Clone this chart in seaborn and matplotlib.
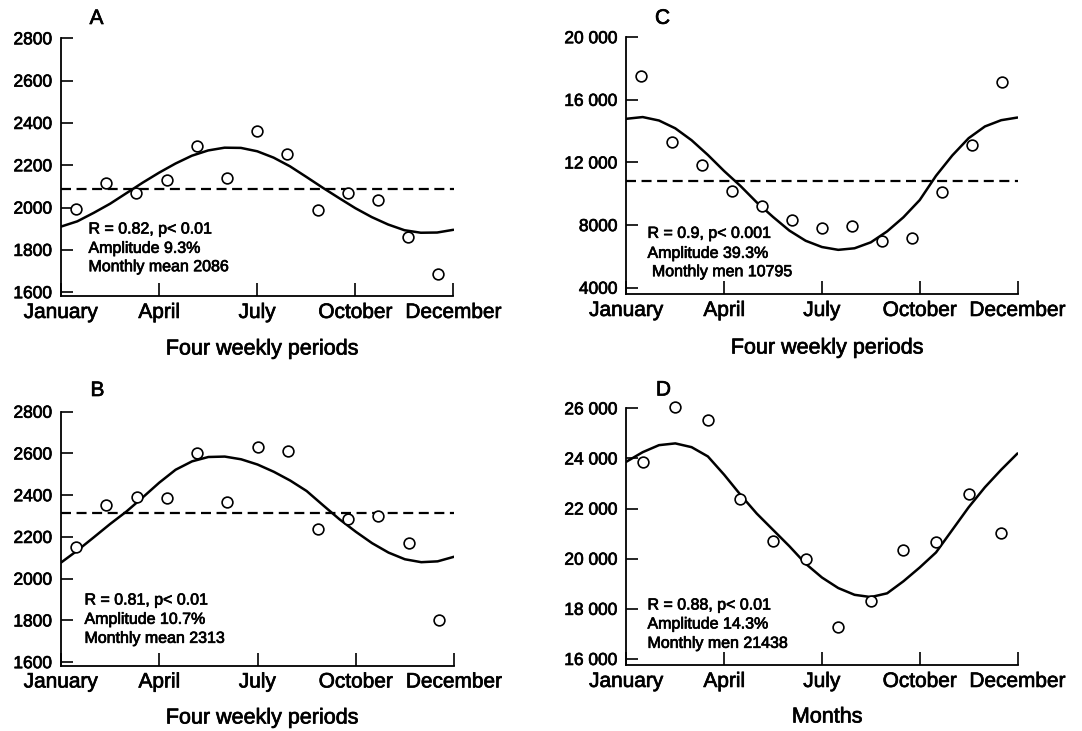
import numpy as np
import matplotlib
matplotlib.use('Agg')
import matplotlib.pyplot as plt
import matplotlib.patheffects as pe
import seaborn as sns

# x axis: months of the year, labelled every quarter
month_ticks = [0, 3, 6, 9, 12]
month_labels = ['January', 'April', 'July', 'October', 'December']

# 13 four weekly periods per year, plotted at the period mid points
period_mid = (np.arange(13) + 0.5) * 12 / 13
month_mid = np.arange(12) + 0.5

a_obs = [1995, 2117, 2071, 2129, 2291, 2140, 2364, 2253, 1987, 2068, 2036, 1861, 1685]
b_obs = [2154, 2355, 2393, 2385, 2604, 2368, 2632, 2610, 2238, 2286, 2302, 2170, 1800]
c_obs = [17543, 13335, 11840, 10195, 9234, 8336, 7845, 7931, 6991, 7204, 10110, 13143, 17159]
d_obs = [23872, 26066, 25548, 22396, 20721, 19989, 17290, 18300, 20362, 20668, 22569, 21013]

# fitted seasonal curves, every half month
curve_x = np.arange(0, 12.5, 0.5)
a_fit = [1910, 1935, 1975, 2018, 2068, 2118, 2165, 2208, 2245, 2270, 2283, 2282, 2266,
         2236, 2195, 2145, 2094, 2045, 1997, 1955, 1920, 1893, 1881, 1882, 1895]
b_fit = [2077, 2135, 2198, 2262, 2322, 2390, 2460, 2522, 2562, 2583, 2585, 2572, 2547,
         2512, 2470, 2420, 2352, 2285, 2225, 2170, 2125, 2093, 2079, 2083, 2105]
c_fit = [14790, 14900, 14680, 14180, 13420, 12480, 11450, 10500, 9450, 8520, 7650, 7000, 6600,
         6420, 6520, 6900, 7600, 8500, 9600, 11150, 12450, 13550, 14300, 14700, 14870]
d_fit = [23870, 24250, 24530, 24600, 24450, 24080, 23350, 22550, 21800, 21150, 20500, 19800, 19250,
         18830, 18560, 18470, 18620, 19100, 19650, 20250, 21150, 22050, 22850, 23550, 24200]

# mean levels (dashed lines)
a_mean = 2086
b_mean = 2313
c_mean = 10795

# y ticks
ab_ticks = [1600, 1800, 2000, 2200, 2400, 2600, 2800]
ab_labels = ['1600', '1800', '2000', '2200', '2400', '2600', '2800']
c_ticks = [4000, 8000, 12000, 16000, 20000]
c_labels = ['4000', '8000', '12 000', '16 000', '20 000']
d_ticks = [16000, 18000, 20000, 22000, 24000, 26000]
d_labels = ['16 000', '18 000', '20 000', '22 000', '24 000', '26 000']

# annotations
a_text = ['R = 0.82, p< 0.01', 'Amplitude 9.3%', 'Monthly mean 2086']
b_text = ['R = 0.81, p< 0.01', 'Amplitude 10.7%', 'Monthly mean 2313']
c_text = ['R = 0.9, p< 0.001', 'Amplitude 39.3%', ' Monthly men 10795']
d_text = ['R = 0.88, p< 0.01', 'Amplitude 14.3%', 'Monthly men 21438']

sns.set_theme(style='ticks')
plt.rcParams['font.family'] = ['Liberation Sans', 'DejaVu Sans']
plt.rcParams['text.color'] = 'black'
plt.rcParams['axes.labelcolor'] = 'black'

W, H = 1082, 731
fig = plt.figure(figsize=(W / 100, H / 100), dpi=100)
fig.patch.set_facecolor('white')


def rect(left, top, right, bottom):
    # pixel box -> figure fraction
    return [left / W, 1 - bottom / H, (right - left) / W, (bottom - top) / H]


def fx(x, y):
    return x / W, 1 - y / H


panels = [
    dict(box=rect(61, 38.3, 453.5, 296), ylim=(1582, 2800), yt=ab_ticks, yl=ab_labels,
         x=period_mid, obs=a_obs, fit=a_fit, mean=a_mean, letter='A', lpos=(96.5, 18.5),
         text=a_text, tx=88.5, ty=[229, 248.3, 266.7], xlabel='Four weekly periods', xpos=(262, 349)),
    dict(box=rect(61, 411.7, 454, 665.5), ylim=(1584, 2800), yt=ab_ticks, yl=ab_labels,
         x=period_mid, obs=b_obs, fit=b_fit, mean=b_mean, letter='B', lpos=(97.5, 390.5),
         text=b_text, tx=84.5, ty=[600, 619.3, 638.3], xlabel='Four weekly periods', xpos=(262, 718)),
    dict(box=rect(626.4, 37.2, 1017.5, 294), ylim=(3600, 20000), yt=c_ticks, yl=c_labels,
         x=period_mid, obs=c_obs, fit=c_fit, mean=c_mean, letter='C', lpos=(662.5, 18.3),
         text=c_text, tx=647.5, ty=[233.3, 253.3, 271.7], xlabel='Four weekly periods', xpos=(827, 348)),
    dict(box=rect(626.4, 408.3, 1017.5, 665), ylim=(15760, 26000), yt=d_ticks, yl=d_labels,
         x=month_mid, obs=d_obs, fit=d_fit, mean=None, letter='D', lpos=(663.5, 390),
         text=d_text, tx=647.5, ty=[605, 624, 643.3], xlabel='Months', xpos=(827, 717)),
]

for p in panels:
    ax = fig.add_axes(p['box'])
    ax.set_facecolor('white')

    sns.lineplot(x=curve_x, y=p['fit'], ax=ax, color='black', linewidth=1.8,
                 estimator=None, sort=False, zorder=2)
    if p['mean'] is not None:
        ax.axhline(p['mean'], color='black', linewidth=1.6, linestyle=(0, (4.5, 2.5)), zorder=1)
    sns.scatterplot(x=p['x'], y=p['obs'], ax=ax, s=60, facecolor='white', edgecolor='black',
                    linewidth=1.2, zorder=3, clip_on=False)

    ax.set_xlim(0, 12)
    ax.set_ylim(*p['ylim'])
    ax.set_xticks(month_ticks)
    ax.set_xticklabels(month_labels)
    ax.set_yticks(p['yt'])
    ax.set_yticklabels(p['yl'])
    ax.tick_params(axis='x', direction='in', length=9.5, width=1.2, pad=5, labelsize=15, colors='black')
    ax.tick_params(axis='y', direction='in', length=8.4, width=1.2, pad=6.5, labelsize=12.5, colors='black')
    for s in ['top', 'right']:
        ax.spines[s].set_visible(False)
    for s in ['left', 'bottom']:
        ax.spines[s].set_linewidth(1.3)
        ax.spines[s].set_color('black')
    ax.set_xlabel('')
    ax.set_ylabel('')

    lx, ly = fx(*p['lpos'])
    fig.text(lx, ly, p['letter'], fontsize=15, ha='center', va='center')
    for line, yy in zip(p['text'], p['ty']):
        tx, ty = fx(p['tx'], yy)
        fig.text(tx, ty, line, fontsize=11.5, ha='left', va='center')
    xx, xy = fx(*p['xpos'])
    fig.text(xx, xy, p['xlabel'], fontsize=15.5, ha='center', va='center')

# the scanned original has slightly heavy type
for t in fig.findobj(matplotlib.text.Text):
    t.set_color('black')
    t.set_path_effects([pe.withStroke(linewidth=0.5, foreground='black')])

fig.savefig('out.png', dpi=100, facecolor='white')
